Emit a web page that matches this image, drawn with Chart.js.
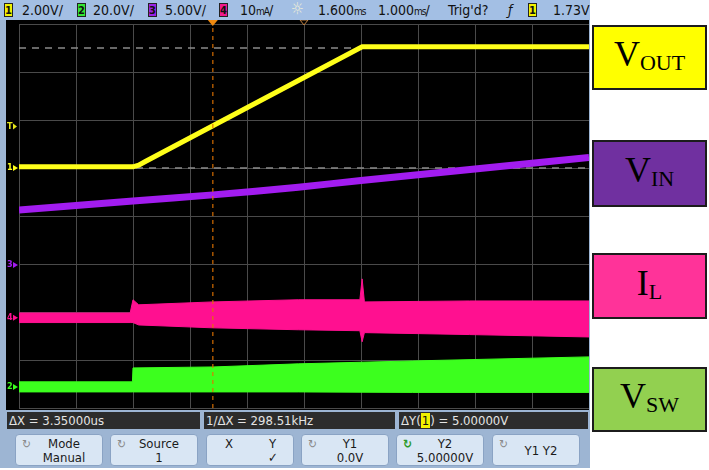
<!DOCTYPE html>
<html>
<head>
<meta charset="utf-8">
<script src="https://cdn.jsdelivr.net/npm/chart.js@4.4.0/dist/chart.umd.min.js"></script>
<style>
  body { margin: 0; width: 709px; height: 470px; overflow: hidden; background: #fff; position: relative; }
  #scope { position: absolute; left: 0; top: 0; width: 590px; height: 468px; background: #9db5d3; }
  #header { position: absolute; left: 0; top: 0; width: 590px; height: 20px; background: #a3bfe4;
            font-family: "DejaVu Sans Condensed", "Liberation Sans Narrow", sans-serif; font-size: 14px; color: #111; }
  #header span { position: absolute; top: 2px; line-height: 16px; white-space: nowrap; }
  #header .badge { top: 3px; width: 9px; height: 14px; line-height: 14px; font-size: 11px; font-weight: bold;
                   text-align: center; color: #111; border: 1px solid #222; box-sizing: border-box; }
  canvas#scr { position: absolute; left: 6px; top: 20px; background: #000; }
  .meas { position: absolute; top: 412px; height: 17px; background: #2c2c2c; color: #e4e4e4;
          font-family: "DejaVu Sans Condensed", sans-serif; font-size: 13px; line-height: 17px; padding-left: 2px; box-sizing: border-box; white-space: nowrap; }
  .key { position: absolute; top: 434px; width: 88px; height: 32px; background: #d9e6f4; border-radius: 4px;
         border: 1px solid #8aa3c4; box-sizing: border-box; font-family: "DejaVu Sans Condensed", sans-serif;
         font-size: 13px; line-height: 14px; color: #1a1a1a; text-align: center; }
  .key .ic { position: absolute; left: 6px; top: 2px; font-size: 12px; color: #8a8a8a; }
  .key .t { position: absolute; left: 10px; right: 0; top: 2px; }
  .lab { position: absolute; left: 592px; width: 115px; border: 2px solid #1c1c1c; box-sizing: border-box;
         display: flex; align-items: center; justify-content: center; font-family: "Liberation Serif", "Times New Roman", serif; color: #000; }
  .lab .txt { display: block; font-size: 36px; line-height: 36px; white-space: nowrap; padding-top: 2px; }
  .lab .sub { font-size: 22px; vertical-align: -4px; }
</style>
</head>
<body>
<div id="scope">
  <div id="header">
    <span class="badge" style="left:4px;background:#f2f200">1</span>
    <span style="left:22px">2.00V/</span>
    <span class="badge" style="left:77px;background:#33e633">2</span>
    <span style="left:93px">20.0V/</span>
    <span class="badge" style="left:148px;background:#9a22e6">3</span>
    <span style="left:165px">5.00V/</span>
    <span class="badge" style="left:219px;background:#f0188c">4</span>
    <span style="left:240px">10<span style="position:static;font-size:10px;letter-spacing:-1px">mA</span>/</span>
    <span style="left:291px;color:#eeeed8;font-size:16px;top:1px">☼</span>
    <span style="left:318px">1.600<span style="position:static;font-size:10px;letter-spacing:-1px">ms</span></span>
    <span style="left:378px">1.000<span style="position:static;font-size:10px;letter-spacing:-1px">ms</span>/</span>
    <span style="left:448px">Trig'd?</span>
    <span style="left:508px;font-style:italic">ƒ</span>
    <span class="badge" style="left:528px;background:#f2f200">1</span>
    <span style="left:553px">1.73V</span>
  </div>
  <canvas id="scr" width="583" height="390"></canvas>
  <div class="meas" style="left:7px;width:193px">ΔX = 3.35000us</div>
  <div class="meas" style="left:204px;width:191px">1/ΔX = 298.51kHz</div>
  <div class="meas" style="left:399px;width:189px">ΔY(<span style="background:#f2f200;color:#111;padding:0 1px">1</span>) = 5.00000V</div>
  <div class="key" style="left:15px"><span class="ic">↻</span><div class="t">Mode<br>Manual</div></div>
  <div class="key" style="left:110px"><span class="ic">↻</span><div class="t">Source<br>1</div></div>
  <div class="key" style="left:206px"><span style="position:absolute;left:18px;top:2px">X</span><span style="position:absolute;left:62px;top:2px">Y</span><span style="position:absolute;left:61px;top:16px">✓</span></div>
  <div class="key" style="left:301px"><span class="ic">↻</span><div class="t">Y1<br>0.0V</div></div>
  <div class="key" style="left:396px"><span class="ic" style="color:#2a9a2a;font-weight:bold">↻</span><div class="t">Y2<br>5.00000V</div></div>
  <div class="key" style="left:492px"><span class="ic">↻</span><div class="t" style="top:9px">Y1 Y2</div></div>
</div>
<div class="lab" style="top:25px;height:65px;background:#ffff00"><span class="txt">V<span class="sub">OUT</span></span></div>
<div class="lab" style="top:140px;height:67px;background:#7030a0"><span class="txt">V<span class="sub">IN</span></span></div>
<div class="lab" style="top:253px;height:66px;background:#ff3399"><span class="txt">I<span class="sub">L</span></span></div>
<div class="lab" style="top:367px;height:65px;background:#92d050"><span class="txt">V<span class="sub">SW</span></span></div>

<script>
// time in ms relative to trigger, 1 ms/div, 10 divisions
const xLeft = -3.4;
const divisions = [0, 1, 2, 3, 4, 5, 6, 7, 8, 9, 10];

// channel settings: units per division and ground position (divisions from centre)
const chNames = ['VOUT', 'VSW', 'VIN', 'IL'];
const chScale = [2, 20, 5, 10];
const chOffset = [1.0, -3.56, -1.02, -2.12];
const chColor = ['#ffff1a', '#3cff1e', '#a21cf0', '#ff1090'];

// ch1 VOUT (V)
const timeVout = [-3.4, -1.4, -1.3, -1.2, 2.62, 6.6];
const vout = [0.05, 0.05, 0.12, 0.25, 5.05, 5.05];

// ch3 VIN (V)
const timeVin = [-3.4, -1.4, 0, 1.5, 2.6, 4.6, 6.6];
const vin = [5.73, 6.67, 7.3, 8.1, 8.8, 10.0, 11.2];

// ch4 IL ripple envelope
const timeIl = [-3.4, -1.45, -1.4, -1.3, 0, 1.5, 2.58, 2.62, 2.66, 4.5, 6.6];
const ilHigh = [1.0, 1.0, 3.75, 2.7, 3.3, 3.75, 3.75, 8.1, 3.3, 3.5, 3.5];
const ilLow = [-1.0, -1.0, -1.0, -1.5, -2.1, -2.5, -2.7, -5.0, -3.1, -3.5, -4.0];

// ch2 VSW switching envelope (V)
const timeVsw = [-3.4, -1.41, -1.4, 0, 1.5, 3.5, 6.6];
const vswHigh = [2.1, 2.1, 7.9, 8.3, 9.6, 10.8, 12.5];
const vswLow = [-2.1, -2.1, -2.1, -2.1, -2.1, -2.3, -2.3];

// cursors and trigger
const cursorY1 = 0.0;
const cursorY2 = 5.0;
const trigLevel = 1.73;
const timeRef = 1.6;

const pts = (xs, ys) => xs.map((x, i) => ({ x: x, y: ys[i] }));

function chAxis(i) {
    return {
        display: false,
        min: -(4 + chOffset[i]) * chScale[i],
        max: (4 - chOffset[i]) * chScale[i]
    };
}

const scopeMarks = {
    id: 'scopeMarks',
    afterDraw(chart) {
        const ctx = chart.ctx;
        const xs = chart.scales.x;
        ctx.save();
        // ground markers on the left
        const axes = ['y1', 'y2', 'y3', 'y4'];
        const labels = ['1', '2', '3', '4'];
        axes.forEach((id, i) => {
            const y = chart.scales[id].getPixelForValue(0);
            ctx.fillStyle = chColor[i];
            ctx.font = 'bold 9px "DejaVu Sans Condensed"';
            ctx.textBaseline = 'middle';
            ctx.fillText(labels[i], 1, y);
            ctx.beginPath();
            ctx.moveTo(7, y - 3); ctx.lineTo(12, y); ctx.lineTo(7, y + 3);
            ctx.fill();
        });
        // trigger level marker
        const ty = chart.scales.y1.getPixelForValue(trigLevel);
        ctx.fillStyle = '#e6e61a';
        ctx.fillText('T', 1, ty);
        ctx.beginPath();
        ctx.moveTo(7, ty - 3); ctx.lineTo(11, ty); ctx.lineTo(7, ty + 3);
        ctx.fill();
        // trigger position marker at top
        const tx = xs.getPixelForValue(0);
        ctx.fillStyle = '#f08a10';
        ctx.beginPath();
        ctx.moveTo(tx - 5, 0); ctx.lineTo(tx + 5, 0); ctx.lineTo(tx, 6);
        ctx.fill();
        // time reference marker
        const rx = xs.getPixelForValue(timeRef);
        ctx.strokeStyle = '#c08040';
        ctx.lineWidth = 1;
        ctx.beginPath();
        ctx.moveTo(rx - 4, 0); ctx.lineTo(rx + 4, 0); ctx.lineTo(rx, 5); ctx.closePath();
        ctx.stroke();
        ctx.restore();
    }
};

const lineDs = (data, color, width, axis, extra) => Object.assign({
    data: data,
    showLine: true,
    borderColor: color,
    backgroundColor: color,
    borderWidth: width,
    pointRadius: 0,
    tension: 0,
    fill: false,
    yAxisID: axis
}, extra || {});

new Chart(document.getElementById('scr'), {
    type: 'scatter',
    data: {
        datasets: [
            lineDs([{ x: 0, y: -4 }, { x: 0, y: 4 }], 'rgba(225,115,0,0.75)', 1.5, 'y', { borderDash: [4, 4] }),
            lineDs(pts(timeVout, vout), chColor[0], 5, 'y1'),
            lineDs(pts(timeVin, vin), chColor[2], 7, 'y3', { tension: 0.3 }),
            lineDs(pts(timeIl, ilHigh), chColor[3], 1, 'y4'),
            lineDs(pts(timeIl, ilLow), chColor[3], 1, 'y4', { fill: '-1' }),
            lineDs(pts(timeVsw, vswHigh), chColor[1], 1, 'y2'),
            lineDs(pts(timeVsw, vswLow), chColor[1], 1, 'y2', { fill: '-1' }),
            lineDs([{ x: xLeft, y: cursorY2 }, { x: xLeft + 10, y: cursorY2 }], '#8a8a8a', 1.5, 'y1', { borderDash: [7, 6] }),
            lineDs([{ x: xLeft, y: cursorY1 }, { x: xLeft + 10, y: cursorY1 }], '#8a8a8a', 1.5, 'y1', { borderDash: [7, 6] })
        ]
    },
    options: {
        responsive: false,
        animation: false,
        layout: { padding: { left: 13, top: 4, right: 0, bottom: 2 } },
        plugins: { legend: { display: false }, tooltip: { enabled: false } },
        scales: {
            x: {
                type: 'linear',
                min: xLeft,
                max: xLeft + 10,
                afterBuildTicks: axis => { axis.ticks = divisions.map(d => ({ value: xLeft + d })); },
                ticks: { display: false },
                grid: { color: '#4a4a4a', lineWidth: 1, drawTicks: false },
                border: { display: false }
            },
            y: {
                min: -4,
                max: 4,
                ticks: { display: false, stepSize: 1 },
                grid: { color: '#4a4a4a', lineWidth: 1, drawTicks: false },
                border: { display: false }
            },
            y1: chAxis(0),
            y2: chAxis(1),
            y3: chAxis(2),
            y4: chAxis(3)
        }
    },
    plugins: [scopeMarks]
});
</script>
</body>
</html>
